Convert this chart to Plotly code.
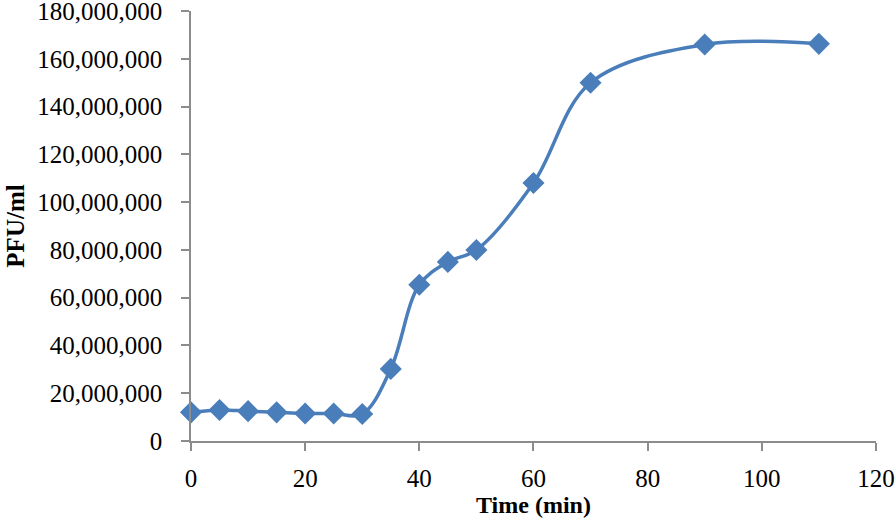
import plotly.graph_objects as go

time_min = [0, 5, 10, 15, 20, 25, 30, 35, 40, 45, 50, 60, 70, 90, 110]
pfu_ml = [12000000, 13000000, 12500000, 12000000, 11500000, 11500000, 11300000,
          30200000, 65400000, 75000000, 80000000, 108000000, 150000000, 166000000, 166300000]

y_ticks = list(range(0, 180000001, 20000000))
y_tick_text = [f"{v:,}" for v in y_ticks]
x_ticks = [0, 20, 40, 60, 80, 100, 120]

color = "#4A7EBB"
font_family = "Liberation Serif, Times New Roman, serif"

fig = go.Figure()
fig.add_trace(go.Scatter(
    x=time_min, y=pfu_ml, mode="lines+markers",
    line=dict(color=color, width=3.5, shape="spline", smoothing=1.0),
    marker=dict(symbol="diamond", size=17, color=color),
    cliponaxis=False, showlegend=False,
))

axis_common = dict(
    showgrid=False, zeroline=False, showline=True, linecolor="#8c8c8c", linewidth=1.5,
    ticks="outside", ticklen=8, tickcolor="#8c8c8c", tickwidth=1.5, automargin=False,
    ticklabeloverflow="allow",
    tickfont=dict(family=font_family, size=25, color="black"),
)

fig.update_layout(
    width=896, height=526,
    margin=dict(l=191, r=20, t=11, b=85),
    paper_bgcolor="white", plot_bgcolor="white",
    xaxis=dict(range=[0, 120.01], tickvals=x_ticks, ticklabelstandoff=6,
               title=dict(text="<b>Time (min)</b>", font=dict(family=font_family, size=24, color="black"),
                          standoff=0),
               **axis_common),
    yaxis=dict(range=[0, 180050000], tickvals=y_ticks, ticktext=y_tick_text, ticklabelstandoff=14,
               title=dict(text="<b>PFU/ml</b>", font=dict(family=font_family, size=25, color="black"),
                          standoff=6),
               **axis_common),
)

fig.write_html("out.html", config={"displayModeBar": False},
               post_script="document.body.style.margin='0';document.body.style.overflow='hidden';")
